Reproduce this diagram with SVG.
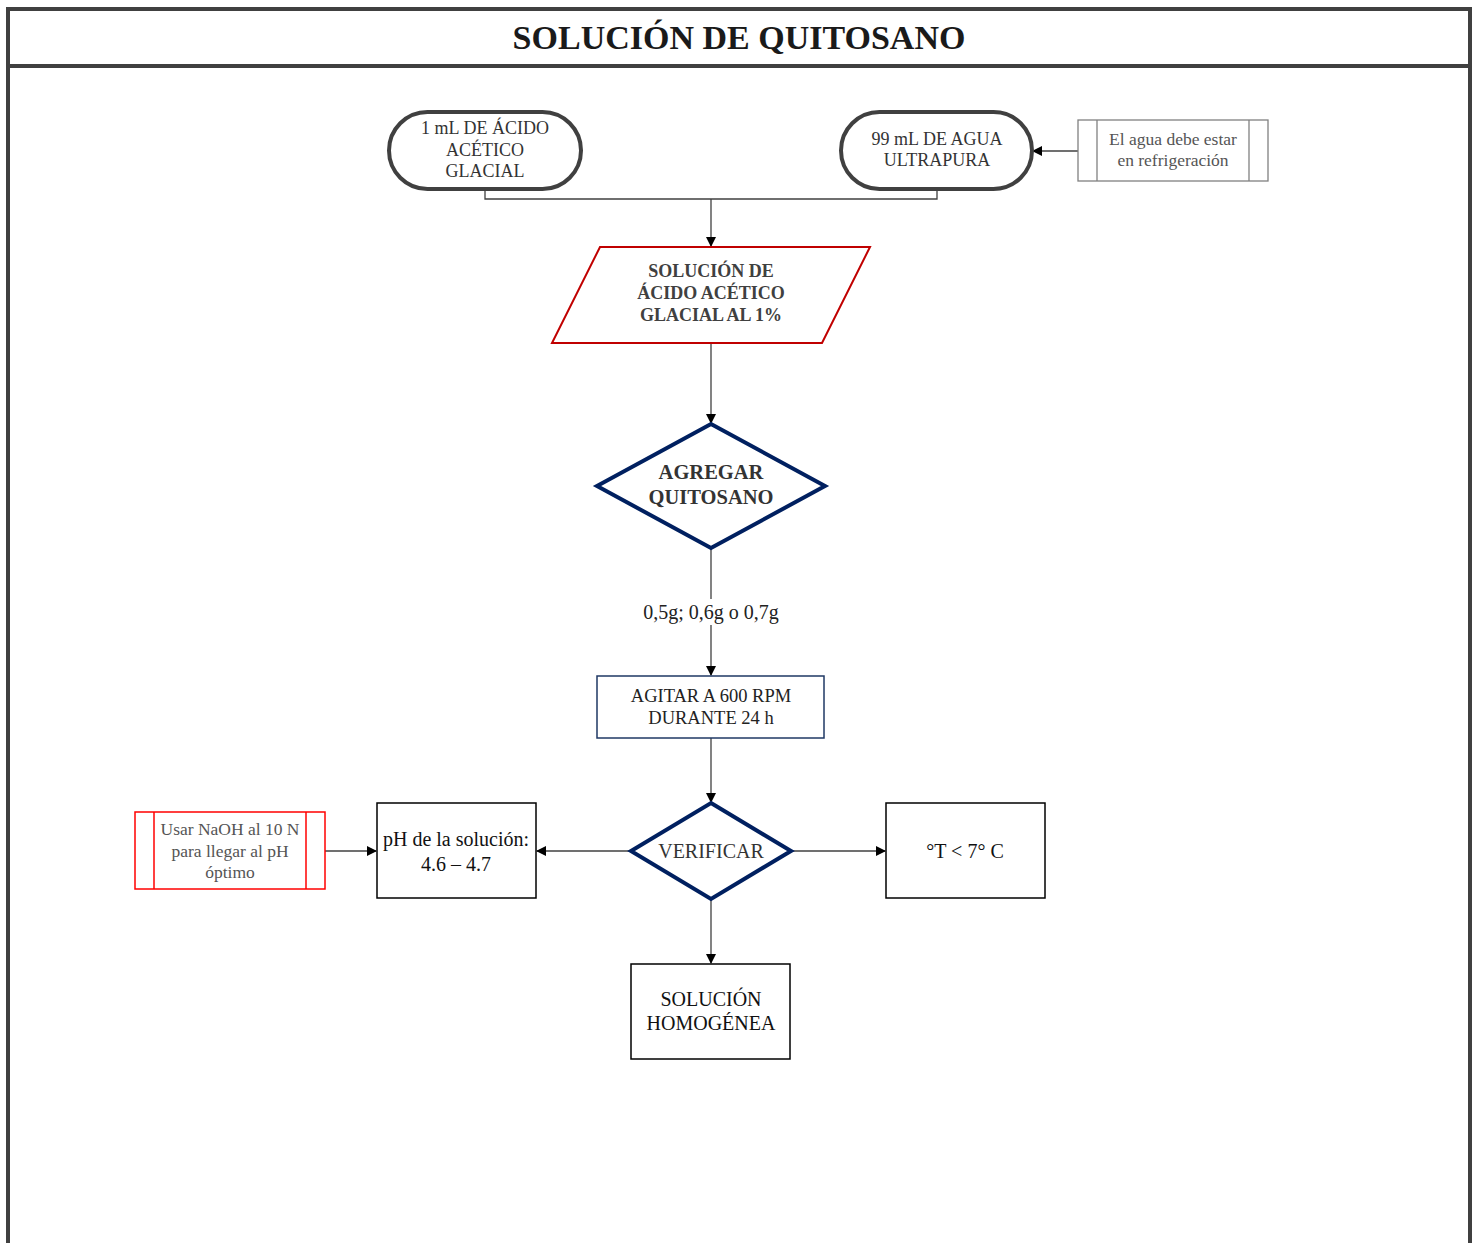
<svg xmlns="http://www.w3.org/2000/svg" width="1480" height="1243" viewBox="0 0 1480 1243">
<style>
text{font-family:"Liberation Serif","Times New Roman",serif;text-anchor:middle;dominant-baseline:central}
.t{font-size:18px;fill:#333}
.n{font-size:17.5px;fill:#555}
.b{font-weight:bold;fill:#404040}
.m{font-size:20px;fill:#111}
.c{fill:none;stroke:#404040;stroke-width:1.3}
</style>
<defs>
<marker id="ah" markerWidth="10" markerHeight="10" refX="9" refY="5" orient="auto" markerUnits="userSpaceOnUse">
<path d="M0,0 L10,5 L0,10 Z" fill="#000"/>
</marker>
</defs>
<rect width="1480" height="1243" fill="#fff"/>
<g id="frame">
<path d="M8,1243 V9 H1470 V1243" fill="none" stroke="#404040" stroke-width="4"/>
<line x1="8" y1="66" x2="1470" y2="66" stroke="#404040" stroke-width="4"/>
<text x="739" y="37" style="font-size:34px;font-weight:bold;fill:#1a1a1a">SOLUCIÓN DE QUITOSANO</text>
</g>
<g id="connectors">
<path class="c" d="M485,189 V199 H937 V189"/>
<path class="c" d="M711,199 V246" marker-end="url(#ah)"/>
<path class="c" d="M1078,151 H1033" marker-end="url(#ah)"/>
<path class="c" d="M711,343 V423" marker-end="url(#ah)"/>
<path class="c" d="M711,548 V675" marker-end="url(#ah)"/>
<rect x="636" y="599" width="150" height="26" fill="#fff"/>
<text x="711" y="612" style="font-size:20px;fill:#222">0,5g; 0,6g o 0,7g</text>
<path class="c" d="M711,738 V802" marker-end="url(#ah)"/>
<path class="c" d="M631,851 H537" marker-end="url(#ah)"/>
<path class="c" d="M325,851 H376" marker-end="url(#ah)"/>
<path class="c" d="M791,851 H885" marker-end="url(#ah)"/>
<path class="c" d="M711,899 V963" marker-end="url(#ah)"/>
</g>
<g id="acido">
<rect x="389" y="112" width="192" height="77" rx="38.5" fill="#fff" stroke="#404040" stroke-width="4"/>
<text class="t" x="485" y="128">1 mL DE ÁCIDO</text>
<text class="t" x="485" y="150">ACÉTICO</text>
<text class="t" x="485" y="171">GLACIAL</text>
</g>
<g id="agua">
<rect x="841" y="112" width="191" height="77" rx="38.5" fill="#fff" stroke="#404040" stroke-width="4"/>
<text class="t" x="937" y="139">99 mL DE AGUA</text>
<text class="t" x="937" y="160">ULTRAPURA</text>
</g>
<g id="nota-agua">
<rect x="1078" y="120" width="190" height="61" fill="#fff" stroke="#808080" stroke-width="1.3"/>
<line x1="1097" y1="120" x2="1097" y2="181" stroke="#808080" stroke-width="1.3"/>
<line x1="1249" y1="120" x2="1249" y2="181" stroke="#808080" stroke-width="1.3"/>
<text class="n" x="1173" y="139">El agua debe estar</text>
<text class="n" x="1173" y="160">en refrigeración</text>
</g>
<g id="solucion-acido">
<polygon points="600,247 870,247 822,343 552,343" fill="#fff" stroke="#c00000" stroke-width="2"/>
<text class="b" x="711" y="271" style="font-size:18px">SOLUCIÓN DE</text>
<text class="b" x="711" y="293" style="font-size:18px">ÁCIDO ACÉTICO</text>
<text class="b" x="711" y="315" style="font-size:18px">GLACIAL AL 1%</text>
</g>
<g id="agregar">
<polygon points="711,424 825,486 711,548 597,486" fill="#fff" stroke="#002060" stroke-width="4"/>
<text class="b" x="711" y="472" style="font-size:20.5px;fill:#333">AGREGAR</text>
<text class="b" x="711" y="497" style="font-size:20.5px;fill:#333">QUITOSANO</text>
</g>
<g id="agitar">
<rect x="597" y="676" width="227" height="62" fill="#fff" stroke="#1f3864" stroke-width="1.5"/>
<text x="711" y="696" style="font-size:18.5px;fill:#222">AGITAR A 600 RPM</text>
<text x="711" y="718" style="font-size:18.5px;fill:#222">DURANTE 24 h</text>
</g>
<g id="verificar">
<polygon points="711,803 791,851 711,899 631,851" fill="#fff" stroke="#002060" stroke-width="4"/>
<text x="711" y="851" style="font-size:20px;fill:#333">VERIFICAR</text>
</g>
<g id="ph">
<rect x="377" y="803" width="159" height="95" fill="#fff" stroke="#000" stroke-width="1.5"/>
<text class="m" x="456" y="839">pH de la solución:</text>
<text class="m" x="456" y="864">4.6 – 4.7</text>
</g>
<g id="naoh">
<rect x="135" y="812" width="190" height="77" fill="#fff" stroke="#ff0000" stroke-width="1.5"/>
<line x1="154" y1="812" x2="154" y2="889" stroke="#ff0000" stroke-width="1.5"/>
<line x1="306" y1="812" x2="306" y2="889" stroke="#ff0000" stroke-width="1.5"/>
<text class="n" x="230" y="829">Usar NaOH al 10 N</text>
<text class="n" x="230" y="851">para llegar al pH</text>
<text class="n" x="230" y="872">óptimo</text>
</g>
<g id="temp">
<rect x="886" y="803" width="159" height="95" fill="#fff" stroke="#000" stroke-width="1.5"/>
<text class="m" x="965" y="851">°T &lt; 7° C</text>
</g>
<g id="homogenea">
<rect x="631" y="964" width="159" height="95" fill="#fff" stroke="#000" stroke-width="1.5"/>
<text class="m" x="711" y="999">SOLUCIÓN</text>
<text class="m" x="711" y="1023">HOMOGÉNEA</text>
</g>
</svg>
